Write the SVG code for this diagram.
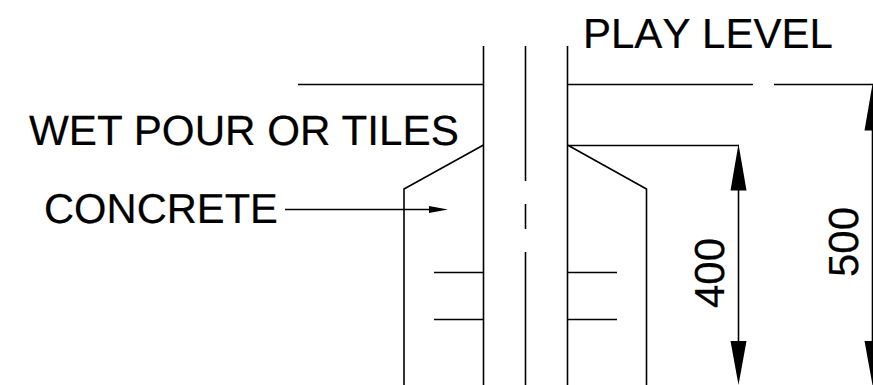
<svg xmlns="http://www.w3.org/2000/svg" width="873" height="385" viewBox="0 0 873 385">
<style>
.l{fill:none;stroke:#000;stroke-width:1.6}
.h{fill:#000;stroke:none}
text{font-family:"Liberation Sans",Arial,sans-serif;font-size:42px;fill:#000;stroke:#000;stroke-width:0.2;text-rendering:geometricPrecision}
</style>
<rect width="873" height="385" fill="#fff"/>
<g id="connectors">
<path class="l" d="M483.500 46V385M525.500 46V181M525.500 204V229M525.500 252V385M567.500 46V385"/>
<path class="l" d="M298 84.500H483.500M567.500 84.500H753M774 84.500H873"/>
<path class="l" d="M483.500 145L404 189V385M567.500 145L646.500 189V385M567.500 145.500H739"/>
<path class="l" d="M285 209.500H432M738.500 180V345M872.500 125V345"/>
<path class="l" d="M434 272.500H483.500M434 319.500H483.500M567.500 272.500H617M567.500 319.500H617"/>
<path class="h" d="M448 209.500L429 206V213ZM738.500 144L730.500 190.500H746.500ZM738.500 385L730.500 341H746.500ZM872.500 84L864.500 130.500H873V84ZM872.500 385L864.500 341H873V385Z"/>
</g>
<g id="play-level"><text x="583" y="48" style="font-kerning:none">PLAY LEVEL</text></g>
<g id="wet-pour"><text x="29" y="145" style="font-size:42.2px">WET POUR OR TILES</text></g>
<g id="concrete"><text x="44" y="223" style="font-size:41.7px">CONCRETE</text></g>
<g id="dim-400"><text transform="translate(723.500 308) rotate(-90)">400</text></g>
<g id="dim-500"><text transform="translate(858 277) rotate(-90)">500</text></g>
</svg>
